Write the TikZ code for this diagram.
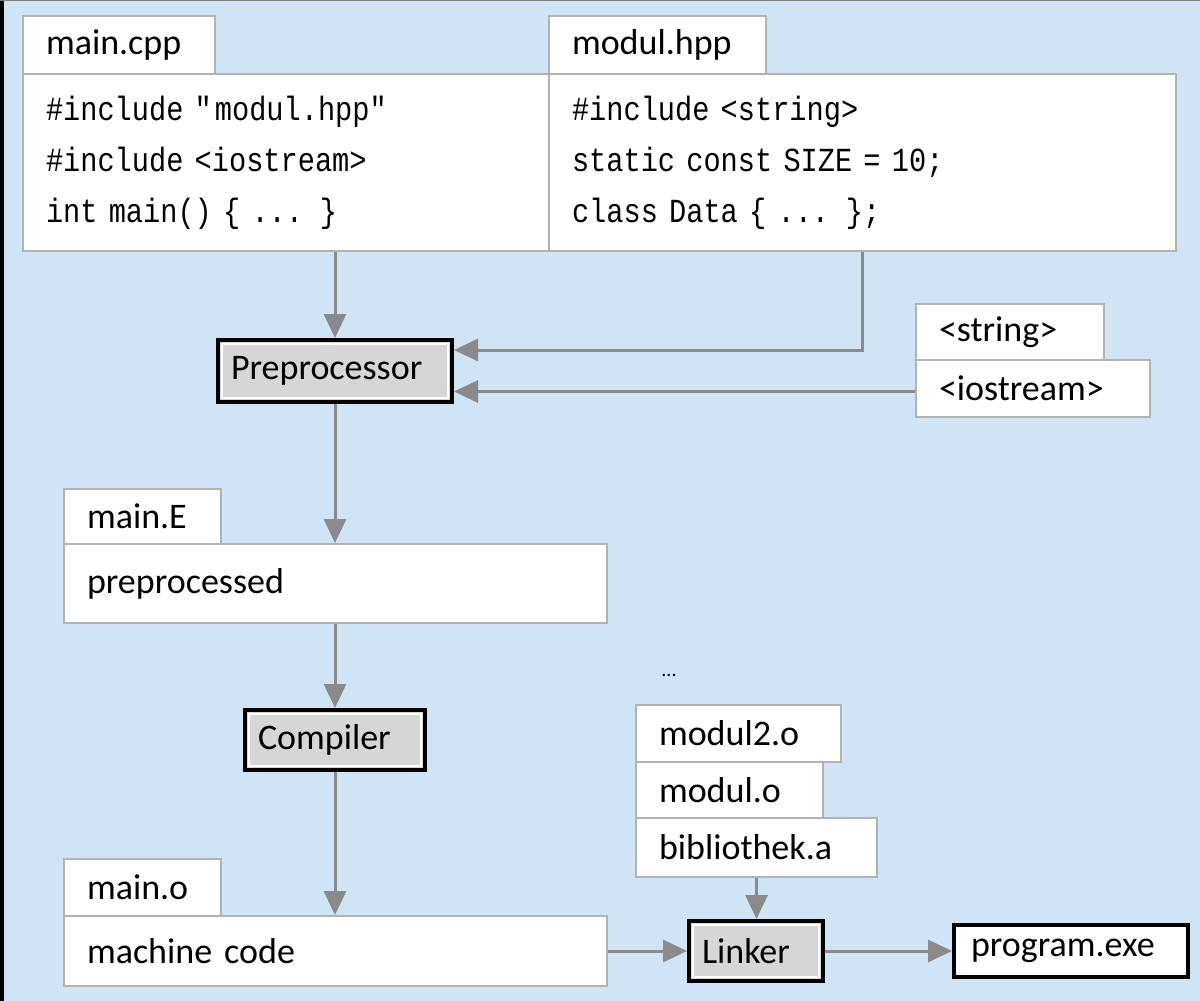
\documentclass[tikz,border=0pt]{standalone}
\usepackage{fontspec}
\setmainfont{Carlito}
\newfontfamily\codefont[FakeStretch=0.85, WordSpace={1,0,0}]{Liberation Mono}
\usepackage{tikz}
\usetikzlibrary{arrows.meta, positioning, calc}

\definecolor{bgblue}{RGB}{207,228,244}
\definecolor{boxline}{RGB}{178,178,178}
\definecolor{flowgray}{RGB}{138,138,138}
\definecolor{toolfill}{RGB}{214,214,214}

\begin{document}
\begin{tikzpicture}[x=1pt, y=-1pt,
  file/.style={draw=boxline, fill=white, line width=2pt, anchor=north west,
               inner xsep=23pt, inner ysep=0pt, align=left,
               font=\fontsize{36}{40}\selectfont},
  code/.style={file, font=\codefont\fontsize{33.7}{51}\selectfont},
  exebox/.style={draw=black, fill=white, line width=4pt, inner xsep=13pt,
                 inner ysep=0pt, align=left, font=\fontsize{36}{40}\selectfont},
  tool/.style={exebox, fill=toolfill,
    path picture={\draw[white, line width=2pt]
      ([shift={(4pt,-4pt)}]path picture bounding box.north west) rectangle
      ([shift={(-4pt,4pt)}]path picture bounding box.south east);}},
  flow/.style={draw=flowgray, line width=3pt, -{Triangle[length=24pt, width=22pt]}},
]

  % === Frame ===
  \useasboundingbox (0,0) rectangle (1200,1001);
  \fill[bgblue] (0,0) rectangle (1200,1001);
  \draw[black, line width=3.5pt] (1.75,0) -- (1.75,1001);
  \draw[gray, line width=1pt] (0,0.5) -- (1200,0.5);

  % === Source files ===
  \node[file, text width=146pt, minimum height=58pt] (mainTab) at (22,15)
    {main.cpp};
  \node[code, text width=480pt, minimum height=177pt] (mainBody) at (22,73)
    {\#include \textquotedbl modul.hpp\textquotedbl\\
     \#include <iostream>\\
     int main() \{ ... \}};

  \node[file, text width=171pt, minimum height=58pt] (modTab) at (548,15)
    {modul.hpp};
  \node[code, text width=581pt, minimum height=177pt] (modBody) at (548,73)
    {\#include <string>\\
     static const SIZE = 10;\\
     class Data \{ ... \};};

  % === Preprocessor ===
  \node[tool, text width=208pt, minimum height=62pt] (prep) at (335,371)
    {Preprocessor};

  % system headers
  \node[file, text width=142pt, minimum height=56pt] (strBox) at (915,303)
    {<string>};
  \node[file, text width=188pt, minimum height=57pt] (iosBox) at (915,359)
    {<iostream>};

  % === Compiler ===
  \node[file, text width=111pt, minimum height=55pt] (eTab) at (63,488)
    {main.E};
  \node[file, text width=497pt, minimum height=79pt] (eBody) at (63,543)
    {preprocessed};

  \node[tool, text width=154pt, minimum height=60pt] (comp) at (335,740)
    {Compiler};

  \node[file, text width=111pt, minimum height=57pt] (oTab) at (63,858)
    {main.o};
  \node[file, text width=497pt, minimum height=70pt] (oBody) at (63,915)
    {machine code};

  % === Linker ===
  \node[font=\fontsize{20}{24}\selectfont] (dots) at (669,675) {...};
  \node[file, text width=159pt, minimum height=57pt] (mod2) at (635,704)
    {modul2.o};
  \node[file, text width=141pt, minimum height=56pt] (mod1) at (635,761)
    {modul.o};
  \node[file, text width=195pt, minimum height=59pt] (lib) at (635,817)
    {bibliothek.a};

  \node[tool, text width=108pt, minimum height=60pt] (link) at (756,951)
    {Linker};
  \node[exebox, inner xsep=17pt, text width=200pt, minimum height=52pt]
    (exe) at (1071,951) {program.exe};

  % === Connectors ===
  \draw[flow] (mainBody.south -| prep.north) -- (prep.north);
  \coordinate (modIn) at ($(prep.north east)+(0,12)$);
  \draw[flow] (modBody.south) |- (modIn);
  \coordinate (iosOut) at ($(iosBox.west)+(0,3)$);
  \draw[flow] (iosOut) -- (iosOut -| prep.east);

  \draw[flow] (prep.south) -- (prep.south |- eBody.north);
  \draw[flow] (eBody.south -| comp.north) -- (comp.north);
  \draw[flow] (comp.south) -- (comp.south |- oBody.north);

  \draw[flow] (oBody.east) -- (oBody.east -| link.west);
  \draw[flow] (lib.south) -- (lib.south |- link.north);
  \draw[flow] (link.east) -- (exe.west);

\end{tikzpicture}
\end{document}
